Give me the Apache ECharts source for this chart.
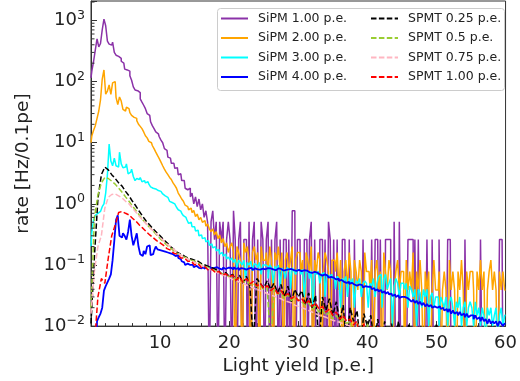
<!DOCTYPE html>
<html><head><meta charset="utf-8">
<script src="https://cdn.jsdelivr.net/npm/echarts@6/dist/echarts.min.js"></script>
<style>html,body{margin:0;padding:0;background:#fff}#c{width:520px;height:381px}</style>
</head><body><div id="c"></div>
<script>
// bin spacing (p.e.) of the arrays below
const FINE_STEP = 0.25;   // SiPM series
const COARSE_STEP = 0.5;  // SPMT series
const xTickValues = [10, 20, 30, 40, 50, 60];
const yTickValues = [0.01, 0.1, 1, 10, 100, 1000];
const yMinorTickValues = [0.02,0.03,0.04,0.05,0.06,0.07,0.08,0.09,
  0.2,0.3,0.4,0.5,0.6,0.7,0.8,0.9, 2,3,4,5,6,7,8,9, 20,30,40,50,60,70,80,90,
  200,300,400,500,600,700,800,900, 2000];
// 0.001 / 0.005 = empty bin (below the axis floor)
const sipm100 = [115,150,215,330,500,370,420,700,1050,820,
460,410,395,440,300,270,258,240,215,200,
160,155,148,125,105,82,73,71,66,52,
46,41,36,30,28,22,19,17,15,14,
12.5,11,10,8,7.5,5.8,5.6,4.6,4.6,3.8,3.9,3.0,3.1,2.4,2.4,1.8,1.7,
1.8,1.3,1.5,1.0,1.3,0.9,1.2,0.8,1.0,0.6,0.77,
0.5,0.001,0.51,0.77,0.26,0.51,0.001,0.51,0.26,0.51,0.001,0.26,0.51,0.26,0.001,0.77,
0.26,0.001,0.26,0.51,0.001,0.26,0.26,0.001,0.51,0.001,0.26,0.51,0.001,0.26,0.001,0.51,0.26,
0.001,0.26,0.51,0.001,0.26,0.001,0.26,0.51,0.001,0.26,0.001,0.26,0.26,0.001,0.26,0.001,0.77,0.77,0.001,0.26,
0.26,0.001,0.001,0.26,0.26,0.001,0.26,0.51,0.001,0.26,0.001,0.001,0.26,0.26,0.001,0.26,0.001,0.51,0.26,0.001,
0.26,0.001,0.26,0.001,0.001,0.26,0.26,0.001,0.001,0.26,0.001,0.001,0.26,0.001,0.001,0.001,0.001,0.26,0.001,0.001,
0.001,0.001,0.26,0.001,0.26,0.26,0.001,0.26,0.001,0.001,0.26,0.26,0.26,0.001,0.001,0.51,0.001,0.001,0.51,0.001,
0.001,0.001,0.001,0.26,0.26,0.26,0.001,0.26,0.001,0.26,0.001,0.001,0.001,0.001,0.26,0.001,0.001,0.26,0.001,0.001,
0.001,0.26,0.001,0.001,0.001,0.001,0.26,0.26,0.001,0.001,0.001,0.001,0.001,0.001,0.001,0.001,0.26,0.001,0.001,0.001,
0.001,0.001,0.001,0.001,0.001,0.26,0.001,0.001,0.001,0.001,0.001,0.001,0.001,0.001,0.001,0.001,0.26,0.26,0.001,0.001];
const sipm200 = [10,13,16,19,25,33,50,110,155,62,70,88,62,95,100,55,42,56,48,35,33,
38,36,31,28,26,25,23,20,18.5,17,15,13,12,10.5,10,9,8,7,6.2,5.5,
4.8,4.2,3.7,3.3,3.0,2.7,2.5,2.2,2.0,1.8,1.5,1.35,1.2,1.1,0.95,0.9,0.8,0.85,0.72,0.78,
0.62,0.68,0.55,0.6,0.5,0.53,0.43,0.47,0.39,0.35,0.39,0.31,0.35,0.27,0.31,0.23,0.27,0.2,0.23,0.16,
0.2,0.23,0.16,0.001,0.2,0.16,0.12,0.001,0.23,0.16,0.2,0.12,0.001,0.16,0.2,0.12,0.16,0.001,0.2,0.12,
0.12,0.16,0.078,0.2,0.12,0.001,0.16,0.12,0.2,0.078,0.16,0.001,0.12,0.16,0.078,0.12,0.2,0.001,0.12,0.16,
0.16,0.078,0.12,0.001,0.16,0.12,0.078,0.2,0.001,0.12,0.078,0.16,0.12,0.001,0.078,0.16,0.12,0.078,0.001,0.12,
0.12,0.078,0.16,0.039,0.12,0.001,0.078,0.12,0.039,0.16,0.078,0.001,0.12,0.078,0.039,0.12,0.078,0.001,0.16,0.078,
0.078,0.039,0.12,0.001,0.078,0.12,0.039,0.078,0.001,0.16,0.078,0.039,0.12,0.078,0.001,0.039,0.078,0.12,0.039,0.078,
0.078,0.001,0.12,0.039,0.078,0.039,0.16,0.001,0.078,0.039,0.12,0.039,0.001,0.078,0.039,0.078,0.001,0.039,0.12,0.039,
0.039,0.078,0.001,0.039,0.078,0.039,0.001,0.12,0.039,0.078,0.039,0.001,0.078,0.039,0.12,0.039,0.001,0.078,0.039,0.078,
0.078,0.039,0.001,0.078,0.039,0.12,0.039,0.078,0.001,0.039,0.078,0.12,0.039,0.078,0.039,0.001,0.078,0.039,0.078,0.039];
const sipm300 = [0.2,0.35,0.55,0.65,0.7,0.75,0.8,0.9,1.0,1.5,3.0,9.5,5.0,4.2,5.6,4.2,4.0,7.0,4.5,3.9,4.0,
4.5,3.1,3.3,3.7,2.8,2.4,2.6,2.5,2.7,2.3,2.4,2.2,2.3,2.1,1.9,1.8,1.75,1.7,1.65,1.6,
1.5,1.45,1.35,1.28,1.2,1.1,1.05,1.0,0.93,0.88,0.8,0.76,0.7,0.64,0.6,0.55,0.48,0.5,0.42,0.42,
0.36,0.37,0.3,0.31,0.27,0.28,0.24,0.25,0.21,0.22,0.19,0.2,0.17,0.18,0.15,0.16,0.14,0.15,0.125,0.135,
0.12,0.13,0.11,0.125,0.09,0.12,0.11,0.1,0.12,0.06,0.11,0.1,0.115,0.08,0.105,0.1,0.09,0.11,0.07,0.1,
0.1,0.095,0.06,0.1,0.09,0.05,0.095,0.085,0.1,0.045,0.09,0.08,0.06,0.09,0.085,0.04,0.09,0.08,0.07,0.085,
0.08,0.07,0.085,0.03,0.08,0.075,0.06,0.08,0.02,0.075,0.07,0.08,0.05,0.07,0.075,0.03,0.07,0.065,0.07,0.06,
0.06,0.04,0.065,0.06,0.02,0.06,0.055,0.065,0.03,0.06,0.05,0.06,0.02,0.055,0.05,0.06,0.03,0.05,0.055,0.05,
0.02,0.05,0.045,0.06,0.03,0.05,0.065,0.07,0.02,0.06,0.07,0.04,0.05,0.06,0.01,0.045,0.06,0.05,0.03,0.05,
0.05,0.04,0.05,0.02,0.045,0.04,0.03,0.04,0.01,0.04,0.035,0.02,0.04,0.03,0.04,0.01,0.03,0.035,0.02,0.03,
0.03,0.01,0.03,0.025,0.02,0.03,0.01,0.025,0.03,0.02,0.01,0.025,0.02,0.03,0.01,0.02,0.025,0.01,0.02,0.025,
0.02,0.01,0.025,0.015,0.02,0.01,0.02,0.015,0.005,0.02,0.015,0.02,0.01,0.015,0.02,0.005,0.015,0.02,0.01,0.015];
const sipm400 = [null,null,null,0.005,0.012,0.014,0.016,0.02,0.038,0.045,0.052,0.06,0.07,0.12,0.25,0.55,0.65,0.3,0.28,0.33,0.3,
0.26,0.35,0.55,0.3,0.21,0.26,0.33,0.2,0.15,0.14,0.17,0.15,0.2,0.21,0.145,0.15,0.17,0.2,0.18,0.175,
0.17,0.17,0.165,0.16,0.165,0.155,0.15,0.155,0.14,0.145,0.13,0.125,0.115,0.11,0.1,0.105,0.1,0.095,0.1,0.092,
0.097,0.09,0.095,0.088,0.094,0.087,0.092,0.086,0.093,0.088,0.09,0.085,0.092,0.087,0.09,0.084,0.091,0.086,0.09,0.085,
0.09,0.084,0.092,0.086,0.09,0.083,0.089,0.087,0.091,0.084,0.088,0.086,0.09,0.083,0.088,0.085,0.089,0.084,0.087,0.085,
0.085,0.089,0.083,0.088,0.085,0.087,0.082,0.088,0.084,0.086,0.081,0.087,0.083,0.085,0.08,0.086,0.082,0.084,0.08,0.083,
0.083,0.079,0.082,0.077,0.081,0.076,0.079,0.074,0.077,0.072,0.075,0.07,0.072,0.067,0.07,0.065,0.067,0.062,0.064,0.062,
0.062,0.058,0.06,0.055,0.057,0.053,0.055,0.051,0.053,0.049,0.051,0.048,0.05,0.046,0.048,0.045,0.047,0.043,0.045,0.044,
0.042,0.044,0.04,0.042,0.038,0.04,0.037,0.039,0.035,0.037,0.034,0.036,0.033,0.034,0.031,0.033,0.03,0.032,0.029,0.03,
0.03,0.028,0.029,0.027,0.028,0.025,0.027,0.024,0.026,0.023,0.025,0.022,0.024,0.021,0.023,0.021,0.022,0.02,0.021,0.02,
0.019,0.021,0.019,0.02,0.018,0.019,0.017,0.019,0.016,0.018,0.016,0.017,0.015,0.017,0.015,0.016,0.014,0.016,0.014,0.015,
0.015,0.013,0.015,0.013,0.014,0.012,0.014,0.012,0.013,0.011,0.013,0.011,0.012,0.011,0.012,0.01,0.012,0.011,0.01,0.011];
const spmt025 = [0.011,0.14,1.2,3.0,4.0,3.6,3.0,2.6,2.2,1.95,1.6,1.35,1.1,0.92,0.75,0.62,0.52,0.45,0.39,0.34,0.3,
0.26,0.23,0.2,0.18,0.16,0.15,0.14,0.13,0.125,0.12,0.115,0.105,0.1,0.095,0.09,0.085,0.08,0.07,0.075,0.065,
0.07,0.055,0.068,0.05,0.065,0.045,0.005,0.06,0.05,0.042,0.055,0.04,0.05,0.035,0.048,0.03,0.045,0.025,0.04,0.03,
0.038,0.022,0.035,0.02,0.032,0.005,0.03,0.018,0.028,0.015,0.025,0.012,0.022,0.005,0.02,0.012,0.018,0.005,0.016,0.01,
0.015,0.005,0.013,0.005,0.012,0.005,0.011,0.005,0.012,0.005,0.005,0.011,0.005,0.005,0.005,0.005,0.005,0.005,0.005,0.011,
0.005,0.005,0.005,0.005,0.005,0.005,0.005,0.005,0.005,0.005,0.005,0.005,0.005,0.005,0.005,0.005,0.005,0.005,0.005,0.005];
const spmt050 = [0.02,0.6,1.4,2.2,2.7,2.6,2.35,2.1,1.8,1.55,1.3,1.1,0.92,0.78,0.65,0.55,0.47,0.41,0.36,0.31,0.27,
0.24,0.21,0.19,0.17,0.155,0.145,0.135,0.127,0.12,0.115,0.108,0.1,0.095,0.09,0.085,0.08,0.076,0.072,0.068,0.065,
0.062,0.058,0.06,0.052,0.055,0.048,0.05,0.044,0.046,0.04,0.043,0.005,0.04,0.033,0.036,0.028,0.033,0.026,0.03,0.027,
0.025,0.022,0.024,0.019,0.021,0.017,0.019,0.015,0.017,0.013,0.015,0.012,0.013,0.011,0.012,0.005,0.011,0.01,0.005,0.011,
0.005,0.01,0.005,0.005,0.005,0.005,0.005,0.005,0.005,0.005,0.005,0.005,0.005,0.005,0.005,0.005,0.005,0.005,0.005,0.005,
0.005,0.005,0.005,0.005,0.005,0.005,0.005,0.005,0.005,0.005,0.005,0.005,0.005,0.005,0.005,0.005,0.005,0.005,0.005,0.005];
const spmt075 = [0.016,0.08,0.2,0.3,0.85,1.28,1.42,1.45,1.35,1.25,1.1,1.0,0.85,0.73,0.62,0.54,0.47,0.41,0.36,0.32,0.28,
0.25,0.22,0.2,0.18,0.16,0.145,0.135,0.125,0.118,0.11,0.104,0.098,0.092,0.087,0.082,0.077,0.073,0.069,0.065,0.062,
0.058,0.056,0.052,0.05,0.047,0.045,0.042,0.04,0.038,0.036,0.034,0.032,0.031,0.029,0.028,0.026,0.025,0.024,0.022,0.021,
0.02,0.019,0.018,0.017,0.016,0.015,0.0145,0.014,0.013,0.0125,0.012,0.0115,0.011,0.0105,0.01,0.005,0.01,0.005,0.005,0.005,
0.005,0.005,0.005,0.005,0.005,0.005,0.005,0.005,0.005,0.005,0.005,0.005,0.005,0.005,0.005,0.005,0.005,0.005,0.005,0.005,
0.005,0.005,0.005,0.005,0.005,0.005,0.005,0.005,0.005,0.005,0.005,0.005,0.005,0.005,0.005,0.005,0.005,0.005,0.005,0.005];
const spmt100 = [null,0.005,0.03,0.06,0.05,0.13,0.3,0.45,0.72,0.75,0.7,0.66,0.58,0.52,0.45,0.4,0.35,0.31,0.28,0.25,0.23,
0.21,0.185,0.175,0.155,0.15,0.13,0.13,0.115,0.115,0.1,0.105,0.09,0.093,0.082,0.085,0.075,0.078,0.068,0.072,0.064,
0.068,0.056,0.064,0.052,0.06,0.049,0.054,0.045,0.05,0.041,0.046,0.038,0.042,0.034,0.038,0.031,0.034,0.028,0.031,0.026,
0.028,0.023,0.026,0.021,0.024,0.019,0.021,0.017,0.019,0.015,0.017,0.013,0.015,0.012,0.013,0.0105,0.012,0.005,0.011,0.005,
0.01,0.005,0.01,0.005,0.005,0.005,0.005,0.005,0.005,0.005,0.005,0.005,0.005,0.005,0.005,0.005,0.005,0.005,0.005,0.005,
0.005,0.005,0.005,0.005,0.005,0.005,0.005,0.005,0.005,0.005,0.005,0.005,0.005,0.005,0.005,0.005,0.005,0.005,0.005,0.005];

const sipmNames = ['SiPM 1.00 p.e.','SiPM 2.00 p.e.','SiPM 3.00 p.e.','SiPM 4.00 p.e.'];
const spmtNames = ['SPMT 0.25 p.e.','SPMT 0.5 p.e.','SPMT 0.75 p.e.','SPMT 1.00 p.e.'];

function toPairs(arr, step) {
  const out = [];
  arr.forEach(function (v, i) { if (v !== null) out.push([Math.round(i * step * 100) / 100, v]); });
  return out;
}
const FONT = 'DejaVu Sans';
function sipmSeries(name, arr, color, w) {
  return { name: name, type: 'line', step: 'middle', symbol: 'none', data: toPairs(arr, FINE_STEP),
    lineStyle: { color: color, width: w }, itemStyle: { color: color }, silent: true };
}
function spmtSeries(name, arr, color) {
  return { name: name, type: 'line', symbol: 'none', data: toPairs(arr, COARSE_STEP),
    lineStyle: { color: color, width: 1.5, type: [5.5, 2.4] }, itemStyle: { color: color }, silent: true };
}
const axisCol = '#333';
const legendCommon = { orient: 'vertical', top: 12, padding: 0, itemWidth: 27, itemHeight: 14, itemGap: 6.5,
  selectedMode: false, z: 4, itemStyle: { opacity: 0 },
  textStyle: { fontSize: 12.5, fontFamily: FONT, color: '#222', padding: [0, 0, 0, 5] } };
const chart = echarts.init(document.getElementById('c'), null, { renderer: 'canvas' });
chart.setOption({
  animation: false,
  textStyle: { fontFamily: FONT },
  grid: { left: 91, right: 9, top: 1, bottom: 54, show: true, borderColor: axisCol, borderWidth: 1 },
  graphic: [{ type: 'rect', left: 217, top: 8, z: 3, shape: { width: 287, height: 82, r: 3 },
    style: { fill: 'rgba(255,255,255,0.85)', stroke: '#cccccc', lineWidth: 1 } }],
  legend: [
    Object.assign({ data: sipmNames, left: 220 }, legendCommon),
    Object.assign({ data: spmtNames, left: 370 }, legendCommon)
  ],
  xAxis: {
    type: 'value', min: 0, max: 60, interval: 10,
    axisLine: { show: true, lineStyle: { color: axisCol } },
    axisTick: { inside: true, length: 5, lineStyle: { color: axisCol } },
    minorTick: { show: true, splitNumber: 5, length: 3, lineStyle: { color: axisCol } },
    splitLine: { show: false },
    axisLabel: { fontSize: 18, color: '#222', margin: 8, fontFamily: FONT, showMaxLabel: true,
      formatter: function (v) { return xTickValues.indexOf(v) >= 0 ? String(v) : ''; } },
    name: 'Light yield [p.e.]', nameLocation: 'middle', nameGap: 30,
    nameTextStyle: { fontSize: 18.5, fontFamily: FONT, color: '#222' }
  },
  yAxis: {
    type: 'log', logBase: 10, min: 0.01, max: 2080,
    axisLine: { show: true, lineStyle: { color: axisCol } },
    axisTick: { inside: true, length: 6, lineStyle: { color: axisCol } },
    minorTick: { show: false },
    splitLine: { show: false },
    axisLabel: {
      margin: 6,
      formatter: function (v) {
        let idx = -1;
        yTickValues.forEach(function (t, i) { if (Math.abs(v - t) / t < 1e-6) idx = i; });
        if (idx < 0) return '';
        const e = Math.round(Math.log10(yTickValues[idx]));
        return '{b|10}{s|' + (e < 0 ? '\u2212' + (-e) : String(e)) + '}';
      },
      rich: {
        b: { fontSize: 18, fontFamily: FONT, color: '#222' },
        s: { fontSize: 12.6, fontFamily: FONT, color: '#222', padding: [0, 0, 10, 0] }
      }
    },
    name: 'rate [Hz/0.1pe]', nameLocation: 'middle', nameGap: 52, nameRotate: 90,
    nameTextStyle: { fontSize: 18.5, fontFamily: FONT, color: '#222' }
  },
  series: [
    sipmSeries(sipmNames[0], sipm100, '#8b32a8', 1.5),
    sipmSeries(sipmNames[1], sipm200, '#ffa500', 1.5),
    sipmSeries(sipmNames[2], sipm300, '#00ffff', 1.5),
    sipmSeries(sipmNames[3], sipm400, '#0000ff', 1.8),
    spmtSeries(spmtNames[0], spmt025, '#000000'),
    spmtSeries(spmtNames[1], spmt050, '#9acd32'),
    spmtSeries(spmtNames[2], spmt075, '#ffb6c1'),
    spmtSeries(spmtNames[3], spmt100, '#ff0000'),
    { type: 'custom', silent: true, z: 5, clip: false,
      data: yMinorTickValues.map(function (v) { return [0, v]; }),
      renderItem: function (params, api) {
        const p = api.coord([0, api.value(1)]);
        return { type: 'line', shape: { x1: p[0], y1: p[1], x2: p[0] + 3.5, y2: p[1] },
          style: { stroke: axisCol, lineWidth: 1 } };
      } }
  ]
});
</script></body></html>
